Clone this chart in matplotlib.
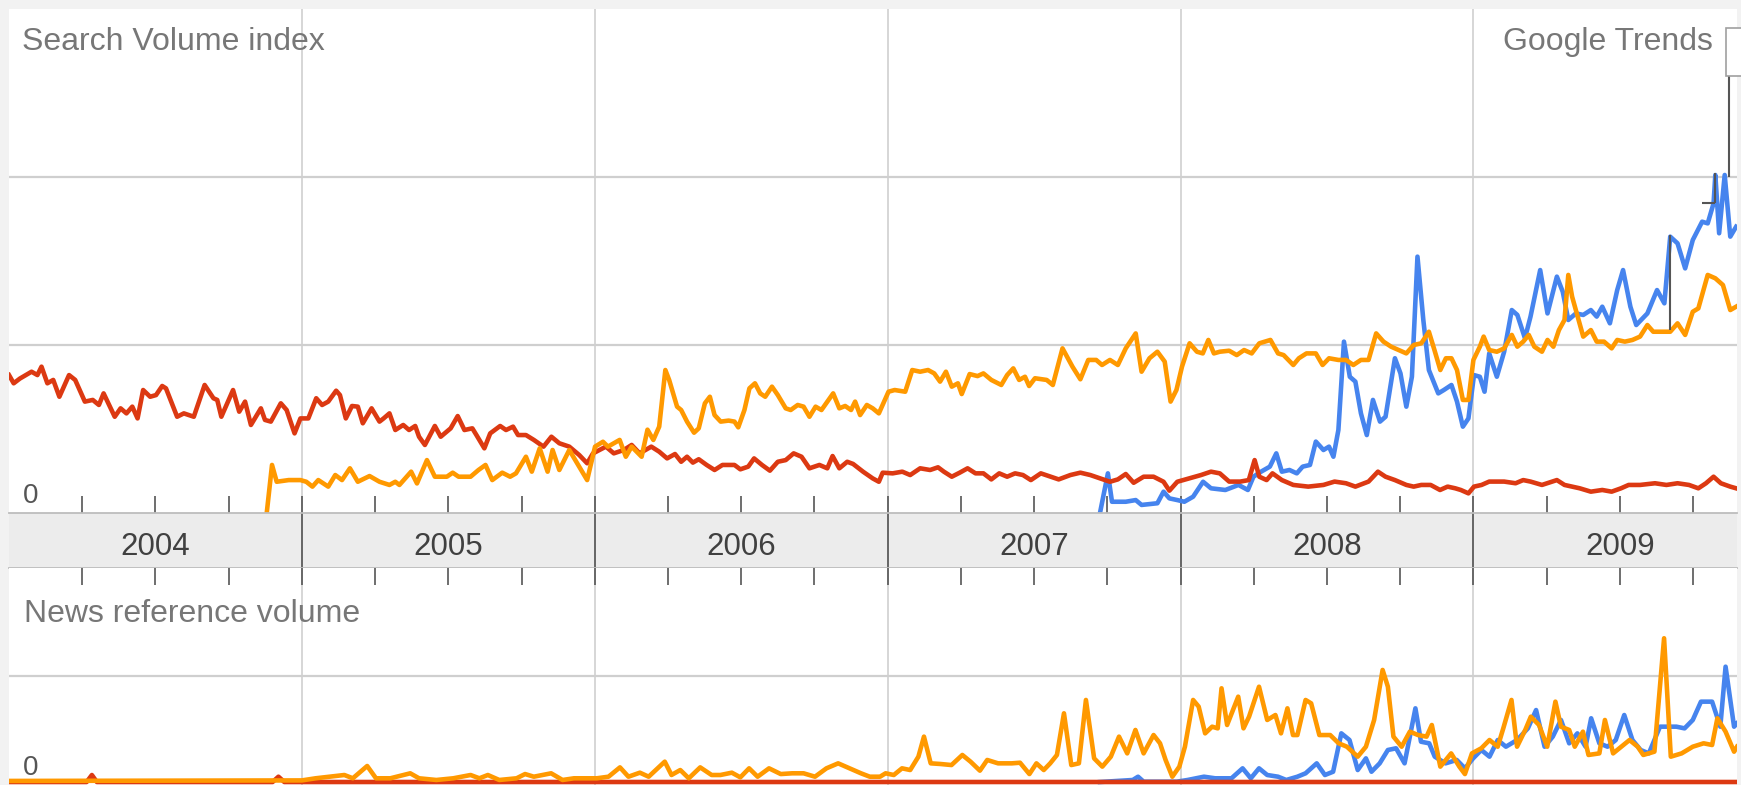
import matplotlib
matplotlib.use("Agg")
import matplotlib.pyplot as plt
from matplotlib.patches import Rectangle

# ---------------- data (decimal years, index values) ----------------
years = [2004, 2005, 2006, 2007, 2008, 2009]
year_labels = ["2004", "2005", "2006", "2007", "2008", "2009"]
quarter_ticks = [2004.25, 2004.5, 2004.75, 2005.0, 2005.25, 2005.5, 2005.75,
                 2006.0, 2006.25, 2006.5, 2006.75, 2007.0, 2007.25, 2007.5, 2007.75,
                 2008.0, 2008.25, 2008.5, 2008.75, 2009.0, 2009.25, 2009.5, 2009.75]

# --- Search volume: red ---
red_top_x = [2004.000, 2004.016, 2004.037, 2004.077, 2004.097, 2004.111, 2004.131, 2004.151,
             2004.172, 2004.205, 2004.226, 2004.259, 2004.286, 2004.307, 2004.323, 2004.361,
             2004.381, 2004.401, 2004.421, 2004.439, 2004.458, 2004.482, 2004.502, 2004.523,
             2004.536, 2004.574, 2004.597, 2004.631, 2004.668, 2004.698, 2004.711, 2004.725,
             2004.765, 2004.786, 2004.806, 2004.826, 2004.860, 2004.874, 2004.894, 2004.928,
             2004.948, 2004.975, 2004.995, 2005.022, 2005.049, 2005.069, 2005.090, 2005.117,
             2005.130, 2005.150, 2005.171, 2005.191, 2005.208, 2005.238, 2005.265, 2005.279,
             2005.299, 2005.319, 2005.346, 2005.366, 2005.387, 2005.400, 2005.420, 2005.454,
             2005.474, 2005.508, 2005.532, 2005.555, 2005.582, 2005.596, 2005.623, 2005.643,
             2005.677, 2005.697, 2005.721, 2005.738, 2005.765, 2005.792, 2005.825, 2005.852,
             2005.879, 2005.913, 2005.947, 2005.974, 2005.994,
             2006.038, 2006.065, 2006.099, 2006.126, 2006.153, 2006.193, 2006.220, 2006.247,
             2006.274, 2006.295, 2006.315, 2006.335, 2006.355, 2006.382, 2006.409, 2006.436,
             2006.477, 2006.497, 2006.524, 2006.544, 2006.571, 2006.598, 2006.625, 2006.652,
             2006.679, 2006.706, 2006.733, 2006.767, 2006.794, 2006.812, 2006.835, 2006.862,
             2006.882, 2006.916, 2006.949, 2006.970, 2006.983, 2007.017, 2007.050, 2007.077,
             2007.111, 2007.145, 2007.172, 2007.192, 2007.219, 2007.246, 2007.273, 2007.300,
             2007.327, 2007.354, 2007.381, 2007.408, 2007.435, 2007.462, 2007.489, 2007.523,
             2007.557, 2007.584, 2007.624, 2007.658, 2007.692, 2007.726, 2007.759, 2007.786,
             2007.813, 2007.840, 2007.874, 2007.908, 2007.942, 2007.962, 2007.989, 2008.029,
             2008.070, 2008.104,
             2008.134, 2008.166, 2008.204, 2008.233, 2008.253, 2008.269, 2008.294, 2008.314,
             2008.346, 2008.385, 2008.436, 2008.488, 2008.526, 2008.565, 2008.597, 2008.642,
             2008.674, 2008.700, 2008.732, 2008.771, 2008.796, 2008.822, 2008.854, 2008.886,
             2008.912, 2008.938, 2008.957, 2008.983, 2009.002, 2009.028, 2009.054, 2009.105,
             2009.144, 2009.170, 2009.195, 2009.234, 2009.285, 2009.311, 2009.363, 2009.401,
             2009.440, 2009.472, 2009.504, 2009.530, 2009.569, 2009.620, 2009.659, 2009.697,
             2009.736, 2009.768, 2009.794, 2009.820, 2009.845, 2009.877, 2009.897]
red_top_y = [0.821, 0.772, 0.800, 0.841, 0.821, 0.871, 0.772, 0.792,
             0.692, 0.821, 0.792, 0.663, 0.673, 0.643, 0.712, 0.573,
             0.623, 0.593, 0.633, 0.563, 0.732, 0.692, 0.702, 0.756,
             0.742, 0.573, 0.593, 0.573, 0.762, 0.683, 0.673, 0.573,
             0.732, 0.603, 0.663, 0.524, 0.623, 0.554, 0.544, 0.653,
             0.613, 0.474, 0.563, 0.563, 0.683, 0.643, 0.663, 0.728,
             0.702, 0.563, 0.637, 0.633, 0.534, 0.623, 0.544, 0.563,
             0.593, 0.494, 0.524, 0.494, 0.518, 0.454, 0.405, 0.518,
             0.454, 0.504, 0.577, 0.494, 0.504, 0.464, 0.385, 0.474,
             0.518, 0.494, 0.514, 0.464, 0.464, 0.435, 0.395, 0.454,
             0.415, 0.395, 0.345, 0.296, 0.355,
             0.395, 0.355, 0.375, 0.405, 0.355, 0.395, 0.365, 0.325,
             0.351, 0.305, 0.335, 0.300, 0.320, 0.286, 0.256, 0.286,
             0.286, 0.260, 0.276, 0.325, 0.286, 0.252, 0.305, 0.315,
             0.355, 0.335, 0.266, 0.286, 0.266, 0.339, 0.266, 0.305,
             0.292, 0.246, 0.206, 0.186, 0.240, 0.236, 0.246, 0.226,
             0.266, 0.256, 0.272, 0.246, 0.216, 0.240, 0.266, 0.236,
             0.236, 0.200, 0.236, 0.216, 0.236, 0.226, 0.196, 0.236,
             0.216, 0.200, 0.226, 0.240, 0.226, 0.206, 0.186, 0.200,
             0.232, 0.180, 0.216, 0.216, 0.186, 0.133, 0.186, 0.206,
             0.226, 0.246,
             0.236, 0.187, 0.187, 0.196, 0.315, 0.216, 0.196, 0.236,
             0.196, 0.167, 0.157, 0.167, 0.187, 0.177, 0.157, 0.187,
             0.246, 0.216, 0.196, 0.167, 0.157, 0.167, 0.167, 0.137,
             0.157, 0.147, 0.137, 0.117, 0.157, 0.167, 0.187, 0.187,
             0.177, 0.196, 0.187, 0.167, 0.196, 0.167, 0.147, 0.127,
             0.137, 0.127, 0.147, 0.167, 0.167, 0.177, 0.167, 0.177,
             0.167, 0.147, 0.177, 0.216, 0.177, 0.157, 0.147]

# --- Search volume: orange ---
orange_top_x = [2004.880, 2004.898, 2004.914, 2004.955, 2004.995, 2005.015, 2005.036, 2005.056,
                2005.090, 2005.114, 2005.137, 2005.164, 2005.191, 2005.231, 2005.265, 2005.299,
                2005.319, 2005.333, 2005.373, 2005.393, 2005.427, 2005.454, 2005.495, 2005.515,
                2005.535, 2005.576, 2005.603, 2005.627, 2005.650, 2005.684, 2005.711, 2005.731,
                2005.765, 2005.785, 2005.812, 2005.839, 2005.856, 2005.879, 2005.913, 2005.940,
                2005.974, 2006.001, 2006.028,
                2006.045, 2006.085, 2006.106, 2006.126, 2006.160, 2006.180, 2006.200, 2006.220,
                2006.241, 2006.254, 2006.281, 2006.295, 2006.315, 2006.339, 2006.355, 2006.376,
                2006.393, 2006.409, 2006.430, 2006.457, 2006.477, 2006.490, 2006.511, 2006.528,
                2006.547, 2006.565, 2006.582, 2006.605, 2006.625, 2006.652, 2006.669, 2006.693,
                2006.713, 2006.733, 2006.754, 2006.774, 2006.814, 2006.835, 2006.855, 2006.875,
                2006.889, 2006.906, 2006.929, 2006.949, 2006.970, 2007.003, 2007.024, 2007.060,
                2007.084, 2007.111, 2007.138, 2007.159, 2007.179, 2007.199, 2007.219, 2007.240,
                2007.253, 2007.280, 2007.307, 2007.327, 2007.354, 2007.388, 2007.408, 2007.429,
                2007.449, 2007.469, 2007.483, 2007.503, 2007.543, 2007.564, 2007.597, 2007.631,
                2007.658, 2007.685, 2007.712, 2007.732, 2007.759, 2007.786, 2007.813, 2007.847,
                2007.867, 2007.894, 2007.921, 2007.946,
                2007.966, 2007.986, 2008.005, 2008.031, 2008.056, 2008.076, 2008.095, 2008.114,
                2008.134, 2008.166, 2008.192, 2008.217, 2008.243, 2008.269, 2008.307, 2008.333,
                2008.352, 2008.385, 2008.404, 2008.430, 2008.462, 2008.485, 2008.507, 2008.539,
                2008.565, 2008.590, 2008.616, 2008.642, 2008.668, 2008.693, 2008.719, 2008.745,
                2008.771, 2008.796, 2008.822, 2008.848, 2008.867, 2008.887, 2008.906, 2008.925,
                2008.944, 2008.964, 2008.983, 2009.000, 2009.022, 2009.035, 2009.054, 2009.080,
                2009.105, 2009.131, 2009.150, 2009.170, 2009.189, 2009.208, 2009.234, 2009.253,
                2009.273, 2009.292, 2009.311, 2009.324, 2009.337, 2009.356, 2009.375, 2009.401,
                2009.421, 2009.446, 2009.472, 2009.491, 2009.517, 2009.543, 2009.569, 2009.594,
                2009.614, 2009.646, 2009.672, 2009.697, 2009.723, 2009.749, 2009.768, 2009.800,
                2009.826, 2009.852, 2009.877, 2009.897]
orange_top_y = [0.000, 0.286, 0.186, 0.196, 0.196, 0.186, 0.157, 0.196,
                0.157, 0.226, 0.196, 0.266, 0.186, 0.220, 0.186, 0.167,
                0.186, 0.167, 0.246, 0.176, 0.315, 0.216, 0.216, 0.240,
                0.216, 0.216, 0.256, 0.286, 0.196, 0.240, 0.216, 0.236,
                0.335, 0.246, 0.385, 0.246, 0.375, 0.256, 0.375, 0.296,
                0.196, 0.395, 0.424,
                0.395, 0.435, 0.335, 0.395, 0.335, 0.496, 0.435, 0.514,
                0.851, 0.792, 0.633, 0.613, 0.544, 0.478, 0.504, 0.653,
                0.692, 0.583, 0.544, 0.550, 0.544, 0.510, 0.613, 0.742,
                0.772, 0.712, 0.692, 0.752, 0.702, 0.623, 0.613, 0.643,
                0.633, 0.573, 0.633, 0.613, 0.712, 0.623, 0.637, 0.613,
                0.663, 0.583, 0.643, 0.623, 0.593, 0.722, 0.732, 0.722,
                0.851, 0.841, 0.851, 0.831, 0.782, 0.841, 0.752, 0.772,
                0.708, 0.827, 0.815, 0.831, 0.792, 0.762, 0.821, 0.861,
                0.792, 0.811, 0.756, 0.802, 0.792, 0.762, 0.980, 0.871,
                0.796, 0.911, 0.911, 0.881, 0.911, 0.881, 0.980, 1.069,
                0.841, 0.921, 0.960, 0.901,
                0.663, 0.732, 0.871, 1.010, 0.960, 0.950, 1.030, 0.950,
                0.960, 0.966, 0.940, 0.970, 0.950, 1.010, 1.030, 0.950,
                0.940, 0.881, 0.921, 0.950, 0.950, 0.881, 0.921, 0.911,
                0.911, 0.881, 0.911, 0.911, 1.069, 1.020, 0.990, 0.970,
                0.950, 1.000, 1.010, 1.079, 0.970, 0.851, 0.921, 0.921,
                0.851, 0.673, 0.673, 0.911, 0.990, 1.050, 0.970, 0.960,
                0.980, 1.060, 0.990, 1.020, 1.060, 0.990, 0.960, 1.030,
                0.990, 1.089, 1.149, 1.417, 1.288, 1.169, 1.050, 1.089,
                1.020, 1.020, 0.980, 1.030, 1.020, 1.030, 1.050, 1.119,
                1.079, 1.079, 1.079, 1.129, 1.060, 1.198, 1.218, 1.417,
                1.397, 1.357, 1.208, 1.228]

# --- Search volume: blue ---
blue_top_x = [2007.725, 2007.752, 2007.766, 2007.813, 2007.847, 2007.867, 2007.921, 2007.942,
              2007.962, 2007.989, 2008.013, 2008.043, 2008.077, 2008.104,
              2008.153, 2008.198, 2008.230, 2008.249, 2008.275, 2008.305, 2008.327, 2008.346,
              2008.372, 2008.397, 2008.417, 2008.442, 2008.462, 2008.488, 2008.507, 2008.522,
              2008.539, 2008.558, 2008.578, 2008.597, 2008.616, 2008.636, 2008.657, 2008.681,
              2008.700, 2008.732, 2008.751, 2008.771, 2008.790, 2008.809, 2008.829, 2008.848,
              2008.880, 2008.899, 2008.925, 2008.944, 2008.964, 2008.983, 2009.002, 2009.022,
              2009.038, 2009.054, 2009.080, 2009.105, 2009.131, 2009.150, 2009.176, 2009.195,
              2009.228, 2009.253, 2009.285, 2009.305, 2009.324, 2009.350, 2009.375, 2009.401,
              2009.421, 2009.440, 2009.466, 2009.491, 2009.511, 2009.536, 2009.556, 2009.594,
              2009.627, 2009.652, 2009.672, 2009.697, 2009.723, 2009.749, 2009.781, 2009.800,
              2009.820, 2009.826, 2009.839, 2009.858, 2009.877, 2009.897]
blue_top_y = [0.000, 0.236, 0.067, 0.067, 0.077, 0.048, 0.058, 0.127,
              0.087, 0.077, 0.067, 0.097, 0.186, 0.147,
              0.137, 0.167, 0.137, 0.216, 0.246, 0.276, 0.355, 0.246,
              0.256, 0.236, 0.276, 0.286, 0.425, 0.375, 0.395, 0.335,
              0.494, 1.020, 0.811, 0.782, 0.593, 0.464, 0.673, 0.544,
              0.573, 0.921, 0.831, 0.633, 0.811, 1.526, 1.149, 0.851,
              0.712, 0.732, 0.762, 0.663, 0.514, 0.563, 0.821, 0.811,
              0.722, 0.950, 0.811, 0.960, 1.208, 1.179, 1.040, 1.169,
              1.446, 1.188, 1.407, 1.317, 1.149, 1.188, 1.179, 1.208,
              1.169, 1.228, 1.129, 1.327, 1.446, 1.228, 1.119, 1.188,
              1.327, 1.248, 1.645, 1.605, 1.456, 1.625, 1.734, 1.724,
              1.843, 2.012, 1.665, 2.012, 1.645, 1.704]

# --- News reference volume ---
orange_news_x = [2004.000, 2005.000, 2005.047, 2005.096, 2005.145, 2005.174, 2005.223, 2005.253,
                 2005.302, 2005.370, 2005.400, 2005.459, 2005.517, 2005.576, 2005.606, 2005.635,
                 2005.674, 2005.733, 2005.762, 2005.792, 2005.821, 2005.851, 2005.890, 2005.929,
                 2006.007, 2006.047, 2006.086, 2006.115, 2006.154, 2006.184, 2006.239, 2006.262,
                 2006.292, 2006.321, 2006.360, 2006.399, 2006.429, 2006.468, 2006.497, 2006.527,
                 2006.556, 2006.595, 2006.635, 2006.674, 2006.713, 2006.752, 2006.791, 2006.831,
                 2006.870, 2006.909, 2006.939,
                 2006.974, 2006.993, 2007.021, 2007.049, 2007.077, 2007.105, 2007.124, 2007.147,
                 2007.180, 2007.218, 2007.255, 2007.283, 2007.315, 2007.340, 2007.377, 2007.424,
                 2007.452, 2007.484, 2007.508, 2007.533, 2007.555, 2007.578, 2007.602, 2007.627,
                 2007.653, 2007.677, 2007.705, 2007.733, 2007.762, 2007.790, 2007.818, 2007.846,
                 2007.874, 2007.908, 2007.930, 2007.949, 2007.972, 2007.996, 2008.015, 2008.043,
                 2008.062, 2008.084, 2008.108, 2008.127, 2008.140, 2008.159, 2008.197, 2008.215,
                 2008.234, 2008.268, 2008.296, 2008.324, 2008.343, 2008.365, 2008.384, 2008.399,
                 2008.427, 2008.446, 2008.474, 2008.511, 2008.540, 2008.568, 2008.605, 2008.633,
                 2008.661, 2008.690, 2008.708, 2008.727, 2008.755, 2008.783, 2008.811, 2008.840,
                 2008.858, 2008.887, 2008.924, 2008.952, 2008.971, 2008.995, 2009.027, 2009.055,
                 2009.083, 2009.102, 2009.130, 2009.149, 2009.177, 2009.196, 2009.224, 2009.252,
                 2009.280, 2009.299, 2009.327, 2009.346, 2009.374, 2009.393, 2009.430, 2009.449,
                 2009.477, 2009.505, 2009.533, 2009.561, 2009.580, 2009.618, 2009.651, 2009.674,
                 2009.711, 2009.749, 2009.786, 2009.815, 2009.833, 2009.861, 2009.890, 2009.900]
orange_news_y = [0.010, 0.015, 0.035, 0.050, 0.066, 0.035, 0.151, 0.035,
                 0.035, 0.082, 0.035, 0.019, 0.035, 0.066, 0.035, 0.066,
                 0.019, 0.035, 0.075, 0.050, 0.066, 0.082, 0.019, 0.035,
                 0.035, 0.050, 0.138, 0.050, 0.088, 0.050, 0.192, 0.066,
                 0.113, 0.035, 0.138, 0.066, 0.066, 0.088, 0.044, 0.129,
                 0.050, 0.129, 0.075, 0.082, 0.082, 0.050, 0.129, 0.176,
                 0.129, 0.082, 0.050,
                 0.050, 0.082, 0.066, 0.129, 0.113, 0.239, 0.428, 0.176,
                 0.170, 0.160, 0.255, 0.192, 0.107, 0.208, 0.176, 0.176,
                 0.182, 0.075, 0.176, 0.113, 0.176, 0.255, 0.648, 0.160,
                 0.176, 0.774, 0.223, 0.145, 0.239, 0.428, 0.270, 0.491,
                 0.270, 0.443, 0.365, 0.208, 0.050, 0.145, 0.333, 0.774,
                 0.711, 0.459, 0.522, 0.506, 0.884, 0.538, 0.805, 0.506,
                 0.616, 0.899, 0.585, 0.632, 0.459, 0.695, 0.443, 0.443,
                 0.774, 0.742, 0.443, 0.443, 0.365, 0.333, 0.239, 0.333,
                 0.585, 1.057, 0.899, 0.428, 0.333, 0.475, 0.443, 0.428,
                 0.538, 0.145, 0.270, 0.145, 0.075, 0.270, 0.318, 0.396,
                 0.333, 0.506, 0.774, 0.333, 0.491, 0.616, 0.538, 0.333,
                 0.758, 0.522, 0.491, 0.333, 0.475, 0.255, 0.270, 0.585,
                 0.270, 0.333, 0.396, 0.333, 0.255, 0.286, 1.356, 0.239,
                 0.270, 0.333, 0.365, 0.349, 0.601, 0.475, 0.286, 0.333]

blue_news_x = [2007.725, 2007.837, 2007.855, 2007.874, 2007.949, 2007.987, 2008.024, 2008.080,
               2008.118, 2008.174, 2008.212, 2008.240, 2008.268, 2008.296, 2008.333, 2008.361,
               2008.399, 2008.427, 2008.465, 2008.493, 2008.521, 2008.549, 2008.577, 2008.605,
               2008.633, 2008.652, 2008.680, 2008.708, 2008.736, 2008.765, 2008.802, 2008.821,
               2008.849, 2008.868, 2008.905, 2008.943, 2008.971, 2008.999, 2009.027, 2009.055,
               2009.083, 2009.111, 2009.149, 2009.186, 2009.214, 2009.243, 2009.271, 2009.299,
               2009.327, 2009.355, 2009.383, 2009.402, 2009.430, 2009.458, 2009.486, 2009.515,
               2009.543, 2009.571, 2009.599, 2009.637, 2009.665, 2009.693, 2009.721, 2009.749,
               2009.777, 2009.815, 2009.843, 2009.861, 2009.890, 2009.900]
blue_news_y = [0.000, 0.019, 0.050, 0.003, 0.003, 0.003, 0.019, 0.050,
               0.035, 0.035, 0.129, 0.035, 0.129, 0.066, 0.050, 0.019,
               0.050, 0.082, 0.176, 0.066, 0.097, 0.459, 0.396, 0.113,
               0.223, 0.097, 0.176, 0.302, 0.318, 0.176, 0.695, 0.380,
               0.365, 0.239, 0.176, 0.208, 0.129, 0.223, 0.302, 0.239,
               0.396, 0.333, 0.396, 0.506, 0.679, 0.333, 0.428, 0.585,
               0.365, 0.459, 0.333, 0.601, 0.365, 0.333, 0.396, 0.632,
               0.396, 0.302, 0.270, 0.522, 0.522, 0.522, 0.506, 0.585,
               0.758, 0.758, 0.522, 1.088, 0.522, 0.553]

red_news_x = [2004.000, 2004.265, 2004.283, 2004.300, 2004.900, 2004.920, 2004.940, 2009.900]
red_news_y = [0.000, 0.000, 0.066, 0.000, 0.000, 0.050, 0.000, 0.000]

# Google Trends annotation flags (top panel)
flag_x = [2009.672, 2009.825, 2009.872]
flag_low = [1.09, 1.845, 2.0]
flag_high = [1.655, 2.024, 2.60]

# ---------------- figure ----------------
W, H, DPI = 1741, 785, 100
BLUE, RED, ORANGE = "#4684ee", "#dc3912", "#ff9900"
GRID = "#cfcfcf"
TICK = "#555555"
LW = 3.3
plt.rcParams["font.family"] = ["Liberation Sans", "DejaVu Sans"]

fig = plt.figure(figsize=(W / DPI, H / DPI), dpi=DPI, facecolor="#f2f2f2")


def fx(px):
    return px / W


def fy(py):
    return 1 - py / H


X0, X1 = 9, 1737
XL = (2004.0, 2009.90)
ax_top = fig.add_axes([fx(X0), fy(513), fx(X1 - X0), (513 - 9) / H])
ax_band = fig.add_axes([fx(X0), fy(568), fx(X1 - X0), (568 - 513) / H])
ax_bot = fig.add_axes([fx(X0), 0, fx(X1 - X0), (785 - 568) / H])

for ax in (ax_top, ax_band, ax_bot):
    ax.set_xlim(*XL)
    ax.set_yticks([])
    for s in ax.spines.values():
        s.set_visible(False)

# top panel
ax_top.set_facecolor("white")
ax_top.set_ylim(0, 3.0)
ax_top.set_axisbelow(True)
for v in (1, 2):
    ax_top.axhline(v, color=GRID, lw=1.6, zorder=0)
for yv in years[1:]:
    ax_top.axvline(yv, color=GRID, lw=1.2, zorder=0)
ax_top.set_xticks(quarter_ticks)
ax_top.tick_params(axis="x", direction="in", length=12.5, width=1.2, color=TICK,
                   labelbottom=False, bottom=True, top=False)
ax_top.plot(blue_top_x, blue_top_y, color=BLUE, lw=LW, zorder=3, solid_joinstyle="round")
ax_top.plot(red_top_x, red_top_y, color=RED, lw=LW, zorder=4, solid_joinstyle="round")
ax_top.plot(orange_top_x, orange_top_y, color=ORANGE, lw=LW, zorder=5, solid_joinstyle="round")
ax_top.vlines(flag_x, flag_low, flag_high, color="#555555", lw=1.5, zorder=6)
ax_top.hlines([flag_low[1]], [2009.780], [flag_x[1]], color="#555555", lw=1.5, zorder=6)

# band with years
ax_band.set_facecolor("#ececec")
ax_band.set_ylim(0, 1)
for side in ("top", "bottom"):
    ax_band.spines[side].set_visible(True)
    ax_band.spines[side].set_color("#bdbdbd")
    ax_band.spines[side].set_linewidth(1.3)
ax_band.set_xticks([])
for yv in years[1:]:
    ax_band.axvline(yv, color="#5a5a5a", lw=1.3)
for yv, lab in zip(years, year_labels):
    ax_band.text(yv + 0.5, (568 - 555) / 55, lab, ha="center", va="baseline",
                 fontsize=22.5, color="#404040")

# bottom panel
ax_bot.set_facecolor("white")
ax_bot.set_ylim(-3 / 106, (782 - 568) / 106)
ax_bot.set_axisbelow(True)
ax_bot.axhline(1, color=GRID, lw=1.6, zorder=0)
for yv in years[1:]:
    ax_bot.axvline(yv, color=GRID, lw=1.2, zorder=0)
ax_bot.set_xticks(quarter_ticks)
ax_bot.xaxis.set_ticks_position("top")
ax_bot.tick_params(axis="x", direction="in", length=12.5, width=1.2, color=TICK,
                   labeltop=False, labelbottom=False, top=True, bottom=False)
ax_bot.plot(blue_news_x, blue_news_y, color=BLUE, lw=LW, zorder=3, solid_joinstyle="round")
ax_bot.plot(red_news_x, red_news_y, color=RED, lw=LW, zorder=4, solid_joinstyle="round")
ax_bot.plot(orange_news_x, orange_news_y, color=ORANGE, lw=LW, zorder=5, solid_joinstyle="round")

# texts
TXT = "#777777"
fig.text(fx(22), fy(50), "Search Volume index", fontsize=23, color=TXT, va="baseline", ha="left")
fig.text(fx(1713), fy(50), "Google Trends", fontsize=23, color=TXT, va="baseline", ha="right")
fig.text(fx(23), fy(503), "0", fontsize=20, color="#555555", va="baseline", ha="left")
fig.text(fx(24), fy(622), "News reference volume", fontsize=23, color=TXT, va="baseline", ha="left")
fig.text(fx(23), fy(775), "0", fontsize=20, color="#555555", va="baseline", ha="left")

# annotation flag box (top right)
fig.add_artist(Rectangle((fx(1726), fy(76)), fx(22), (76 - 28) / H, transform=fig.transFigure,
                         facecolor="white", edgecolor="#a0a0a0", lw=1.2, zorder=10))

fig.savefig("out.png", dpi=DPI, facecolor=fig.get_facecolor())
